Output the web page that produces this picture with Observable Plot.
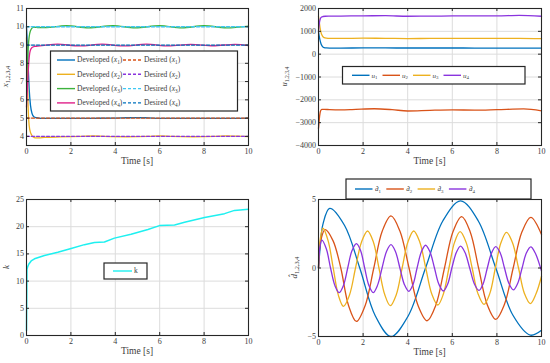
<!DOCTYPE html>
<html><head><meta charset="utf-8">
<script src="https://cdn.jsdelivr.net/npm/d3@7"></script>
<script src="https://cdn.jsdelivr.net/npm/@observablehq/plot@0.6"></script>
<style>
body{margin:0;background:#fff;}
#wrap{position:relative;width:550px;height:363px;overflow:hidden;font-family:"Liberation Serif",serif;}
#wrap svg{position:absolute;}
</style></head><body><div id="wrap"></div>
<script>
// ---------- data ----------
const timeTicks = [0, 2, 4, 6, 8, 10];
const xTicks1 = [4, 5, 6, 7, 8, 9, 10, 11];
const uTicks = [-4000, -3000, -2000, -1000, 0, 1000, 2000];
const kTicks = [0, 5, 10, 15, 20, 25];
const dTicks = [-5, 0, 5];

// panel 1 : states
const tX1 = [0,0.03,0.07,0.12,0.18,0.25,0.33,0.45,0.6,1,2,3,4,4.5,5,5.5,6,7,8,9,10];
const vX1 = [10,9.3,8.0,6.6,5.7,5.25,5.08,5.02,4.99,4.98,4.98,4.99,5.0,5.02,5.03,5.01,4.99,4.98,4.99,4.99,4.98];
const tX2 = [0,0.03,0.06,0.1,0.15,0.22,0.3,0.4,0.55,0.8,1.5,2.5,3,3.5,4.5,5.5,6,6.5,7.5,8.5,9,9.5,10];
const vX2 = [9.4,8.0,6.2,4.9,4.35,4.1,3.97,3.92,3.92,3.94,3.97,4.0,4.02,4.0,3.98,4.0,4.03,4.0,3.98,4.0,4.03,4.01,3.99];
const tX3 = [0,0.04,0.08,0.12,0.17,0.23,0.3,0.4,0.5,0.9,1.8,2.8,3.9,4.9,6,7,8,9,10];
const vX3 = [7.0,8.0,8.9,9.45,9.75,9.9,9.96,9.97,9.96,9.95,10.06,9.94,10.06,9.94,10.06,9.94,10.06,9.94,10.04];
const tX4 = [0,0.04,0.08,0.12,0.17,0.25,0.35,0.5,0.8,1.4,2.4,3.4,4.4,5.4,6.4,7.4,8.4,9.4,10];
const vX4 = [5.6,6.6,7.6,8.3,8.7,8.87,8.92,8.94,8.98,9.05,8.95,9.05,8.95,9.05,8.95,9.04,8.96,9.04,8.97];
const desired = [5, 4, 10, 9];
const tDesired = [0, 10];

// panel 2 : controls
const tU1 = [0,0.03,0.07,0.12,0.18,0.25,0.35,0.5,1,2,3,4,5,6,7,8,9,10];
const vU1 = [980,800,600,430,330,285,272,268,268,272,272,270,270,270,268,268,266,265];
const tU2 = [0,0.02,0.04,0.07,0.1,0.15,0.25,0.5,1,1.5,2.5,3.3,4,5,6,7,8,9.2,10];
const vU2 = [-3250,-3050,-2800,-2580,-2470,-2420,-2415,-2430,-2440,-2430,-2390,-2430,-2490,-2460,-2440,-2450,-2430,-2400,-2480];
const tU3 = [0,0.03,0.07,0.12,0.18,0.25,0.35,0.5,1,2,3,4,5,6,7,8,9,10];
const vU3 = [1650,1450,1150,920,790,725,700,690,690,700,695,685,690,695,695,690,690,680];
const tU4 = [0,0.02,0.05,0.09,0.14,0.2,0.3,0.5,1,2,3,4,5,6,7,8,9,10];
const vU4 = [1000,1200,1420,1570,1630,1650,1660,1665,1670,1680,1685,1660,1665,1675,1680,1680,1700,1660];

// panel 3 : gain k
const tK = [0,0.02,0.05,0.1,0.21,0.36,0.81,1.41,2.01,2.61,3.06,3.51,3.96,4.71,5.47,5.99,6.67,7.12,8.02,8.92,9.37,10];
const vK = [0.9,12.1,12.6,13.1,13.7,14.1,14.7,15.3,16.0,16.7,17.1,17.2,17.9,18.6,19.5,20.2,20.3,20.8,21.7,22.4,23.0,23.2];

// panel 4 : disturbance estimates
const tD1 = [0,0.08,0.2,0.5,1.17,1.85,2.55,3.25,4.02,4.8,5.58,6.37,7.16,7.95,8.72,9.5,10];
const vD1 = [0,1.6,3.2,4.35,3.1,0,-3.5,-5.0,-3.5,0,3.45,4.9,3.45,0,-3.45,-4.9,-4.55];
const tD2 = [0,0.1,0.3,0.65,1.0,1.35,1.7,2.09,2.48,2.86,3.25,3.65,4.06,4.46,4.87,5.26,5.65,6.03,6.42,6.8,7.18,7.56,7.95,8.34,8.73,9.12,9.52,10];
const vD2 = [0,2.0,2.8,2.0,0,-2.75,-3.9,-2.75,0,2.7,3.8,2.7,0,-2.72,-3.85,-2.72,0,2.65,3.75,2.65,0,-2.65,-3.75,-2.65,0,2.62,3.7,2.45];
const tD3 = [0,0.07,0.2,0.43,0.66,0.89,1.12,1.39,1.66,1.93,2.2,2.46,2.71,2.97,3.22,3.49,3.75,4.01,4.27,4.54,4.81,5.08,5.35,5.6,5.85,6.1,6.35,6.62,6.89,7.15,7.42,7.68,7.93,8.18,8.43,8.7,8.97,9.23,9.5,9.75,10];
const vD3 = [0,2.0,2.9,2.0,0,-1.98,-2.8,-1.97,0,1.9,2.7,1.9,0,-1.94,-2.75,-1.94,0,1.9,2.7,1.9,0,-1.9,-2.7,-1.9,0,1.87,2.65,1.87,0,-1.87,-2.65,-1.87,0,1.84,2.6,1.84,0,-1.84,-2.6,-1.9,-0.6];
const tD4 = [0,0.06,0.15,0.35,0.54,0.74,0.93,1.12,1.31,1.5,1.7,1.89,2.07,2.26,2.45,2.65,2.85,3.05,3.25,3.45,3.65,3.85,4.05,4.24,4.42,4.61,4.8,5.0,5.2,5.4,5.6,5.79,5.98,6.18,6.37,6.57,6.78,6.99,7.2,7.38,7.57,7.76,7.95,8.15,8.34,8.54,8.74,8.93,9.13,9.32,9.52,9.72,9.96,10];
const vD4 = [0,1.5,2.03,1.4,0,-1.3,-1.8,-1.27,0,1.26,1.78,1.26,0,-1.27,-1.8,-1.25,0,1.2,1.7,1.2,0,-1.2,-1.7,-1.2,0,1.17,1.66,1.17,0,-1.19,-1.68,-1.19,0,1.13,1.6,1.13,0,-1.16,-1.64,-1.16,0,1.1,1.56,1.1,0,-1.13,-1.6,-1.13,0,1.09,1.54,1.09,0,-0.22];

const seriesIdx = ["1", "2", "3", "4"];

// ---------- styling ----------
const C = {blue:"#0072BD", orange:"#D95319", yellow:"#EDB120", purple:"#8A34DE",
           green:"#3DB23D", cyan:"#3FC8F2", magenta:"#E0218A", kcyan:"#1EF0F0"};
const ink = "#262626";
const txt = "#3c3c3c";
const FONT = '"Liberation Serif", "DejaVu Serif", serif';
const fmt = d3.format("d");
const rows = (t, v) => t.map((d, i) => ({t: d, v: v[i]}));
const wrap = document.getElementById("wrap");

function panel(o) {
  const fh = o.height - o.mT - o.mB, fw = o.width - o.mL - o.mR;
  const marks = [
    Plot.gridX(timeTicks, {stroke: "#dcdcdc", strokeOpacity: 1}),
    Plot.gridY(o.yTicks, {stroke: "#dcdcdc", strokeOpacity: 1}),
    ...o.lines,
    Plot.tickX(timeTicks, {x: d => d, stroke: ink, insetTop: fh - 3}),
    Plot.tickX(timeTicks, {x: d => d, stroke: ink, insetBottom: fh - 3}),
    Plot.tickY(o.yTicks, {y: d => d, stroke: ink, insetRight: fw - 3}),
    Plot.tickY(o.yTicks, {y: d => d, stroke: ink, insetLeft: fw - 3}),
    Plot.frame({stroke: ink, strokeWidth: 1.1}),
    Plot.axisX({ticks: timeTicks, tickSize: 0, tickPadding: 3, tickFormat: fmt, label: null, fill: txt}),
    Plot.axisY({ticks: o.yTicks, tickSize: 0, tickPadding: 2.5, tickFormat: fmt, label: null, fill: txt})
  ];
  const svg = Plot.plot({
    width: o.width, height: o.height,
    marginLeft: o.mL, marginRight: o.mR, marginTop: o.mT, marginBottom: o.mB,
    x: {domain: [0, 10]}, y: {domain: o.yDomain},
    style: {fontFamily: FONT, fontSize: "8px", color: txt, background: "transparent", overflow: "visible"},
    marks
  });
  svg.style.left = o.left + "px";
  svg.style.top = o.top + "px";
  wrap.append(svg);
  const s = d3.select(svg);
  s.append("text").attr("x", o.mL + fw / 2).attr("y", o.height - o.mB + 19)
    .attr("text-anchor", "middle").attr("font-size", 9.5).attr("font-family", FONT).attr("fill", txt)
    .text("Time [s]");
  const yl = s.append("text").attr("transform", `translate(${o.ylx},${o.mT + fh / 2}) rotate(-90)`)
    .attr("text-anchor", "middle").attr("font-size", o.ylSize || 9).attr("font-family", FONT).attr("fill", txt);
  yl.append("tspan").attr("font-style", "italic").text(o.ylMain);
  if (o.ylSub) yl.append("tspan").attr("font-size", (o.ylSize || 9) * 0.7).attr("dy", 2).text(o.ylSub);
  return svg;
}

const L = (t, v, color, extra = {}) => Plot.line(rows(t, v), {x: "t", y: "v", stroke: color, strokeWidth: 1.3, curve: "monotone-x", ...extra});
const dash = {strokeDasharray: "3,2"};

panel({left: 0, top: 0, width: 275, height: 180, mL: 26, mR: 27, mT: 8, mB: 35,
  yDomain: [3.5, 11], yTicks: xTicks1, ylx: 8, ylMain: "x", ylSub: "1,2,3,4",
  lines: [
    L(tX1, vX1, C.blue), L(tX2, vX2, C.yellow), L(tX3, vX3, C.green, {curve: "catmull-rom"}), L(tX4, vX4, C.magenta, {curve: "catmull-rom"}),
    L(tDesired, [desired[0], desired[0]], C.orange, dash),
    L(tDesired, [desired[1], desired[1]], C.purple, dash),
    L(tDesired, [desired[2], desired[2]], C.cyan, dash),
    L(tDesired, [desired[3], desired[3]], C.blue, dash)
  ]});

panel({left: 275, top: 0, width: 275, height: 180, mL: 43, mR: 9, mT: 8, mB: 35,
  yDomain: [-4000, 2000], yTicks: uTicks, ylx: 12, ylSize: 8, ylMain: "u", ylSub: "1,2,3,4",
  lines: [L(tU1, vU1, C.blue), L(tU2, vU2, C.orange), L(tU3, vU3, C.yellow), L(tU4, vU4, C.purple)]});

panel({left: 0, top: 180, width: 275, height: 183, mL: 26, mR: 27, mT: 19, mB: 28,
  yDomain: [0, 25], yTicks: kTicks, ylx: 9, ylMain: "k",
  lines: [L(tK, vK, C.kcyan, {curve: "linear", strokeWidth: 1.5})]});

panel({left: 275, top: 180, width: 275, height: 183, mL: 43, mR: 9, mT: 19, mB: 27,
  yDomain: [-5, 5], yTicks: dTicks, ylx: 22, ylMain: "d\u0302", ylSub: "1,2,3,4",
  lines: [
    L(tD1, vD1, C.blue, {curve: "catmull-rom"}), L(tD2, vD2, C.orange, {curve: "catmull-rom"}),
    L(tD3, vD3, C.yellow, {curve: "catmull-rom"}), L(tD4, vD4, C.purple, {curve: "catmull-rom"})
  ]});

// ---------- legends (overlay) ----------
const ov = d3.select(wrap).append("svg").attr("width", 550).attr("height", 363)
  .style("left", "0px").style("top", "0px").attr("font-family", FONT);
function box(x, y, w, h) {
  ov.append("rect").attr("x", x).attr("y", y).attr("width", w).attr("height", h)
    .attr("fill", "#fff").attr("stroke", ink).attr("stroke-width", 1.2);
}
function seg(x1, x2, y, color, dashed) {
  const l = ov.append("line").attr("x1", x1).attr("x2", x2).attr("y1", y).attr("y2", y)
    .attr("stroke", color).attr("stroke-width", 1.4);
  if (dashed) l.attr("stroke-dasharray", "3,2");
}
function rich(x, y, parts, size) {
  const t = ov.append("text").attr("x", x).attr("y", y + size * 0.33).attr("font-size", size).attr("fill", txt);
  let shift = 0;
  for (const p of parts) {
    const ts = t.append("tspan").text(p.t);
    if (p.i) ts.attr("font-style", "italic");
    const target = p.sub ? size * 0.25 : 0;
    if (target !== shift) { ts.attr("dy", target - shift); shift = target; }
    if (p.sub) ts.attr("font-size", size * 0.7);
  }
}

// panel 1 legend
const devColors = [C.blue, C.yellow, C.green, C.magenta];
const desColors = [C.orange, C.purple, C.cyan, C.blue];
box(50.5, 51, 187, 60);
seriesIdx.forEach((n, i) => {
  const y = 60 + i * 14.3;
  seg(57, 75, y, devColors[i], false);
  rich(77, y, [{t: "Developed ("}, {t: "x", i: true}, {t: n, sub: true}, {t: ")"}], 7.5);
  seg(123, 142, y, desColors[i], true);
  rich(144, y, [{t: "Desired ("}, {t: "x", i: true}, {t: n, sub: true}, {t: ")"}], 7.5);
});

// panel 2 legend
const uColors = [C.blue, C.orange, C.yellow, C.purple];
box(342.5, 66.5, 182.5, 17.5);
seriesIdx.forEach((n, i) => {
  const x0 = 352 + i * 30.5;
  seg(x0, x0 + 17.5, 75.3, uColors[i], false);
  rich(x0 + 19.5, 75.3, [{t: "u", i: true}, {t: n, sub: true}], 7);
});

// panel 3 legend
box(104, 263, 43, 16);
seg(113, 132, 271, C.kcyan, false);
rich(134, 271, [{t: "k"}], 7.5);

// panel 4 legend
box(346, 179, 185, 20);
seriesIdx.forEach((n, i) => {
  const x0 = 355 + i * 31.3;
  seg(x0, x0 + 17.5, 189, uColors[i], false);
  rich(x0 + 20, 189, [{t: "d\u0302", i: true}, {t: n, sub: true}], 7);
});
</script></body></html>
